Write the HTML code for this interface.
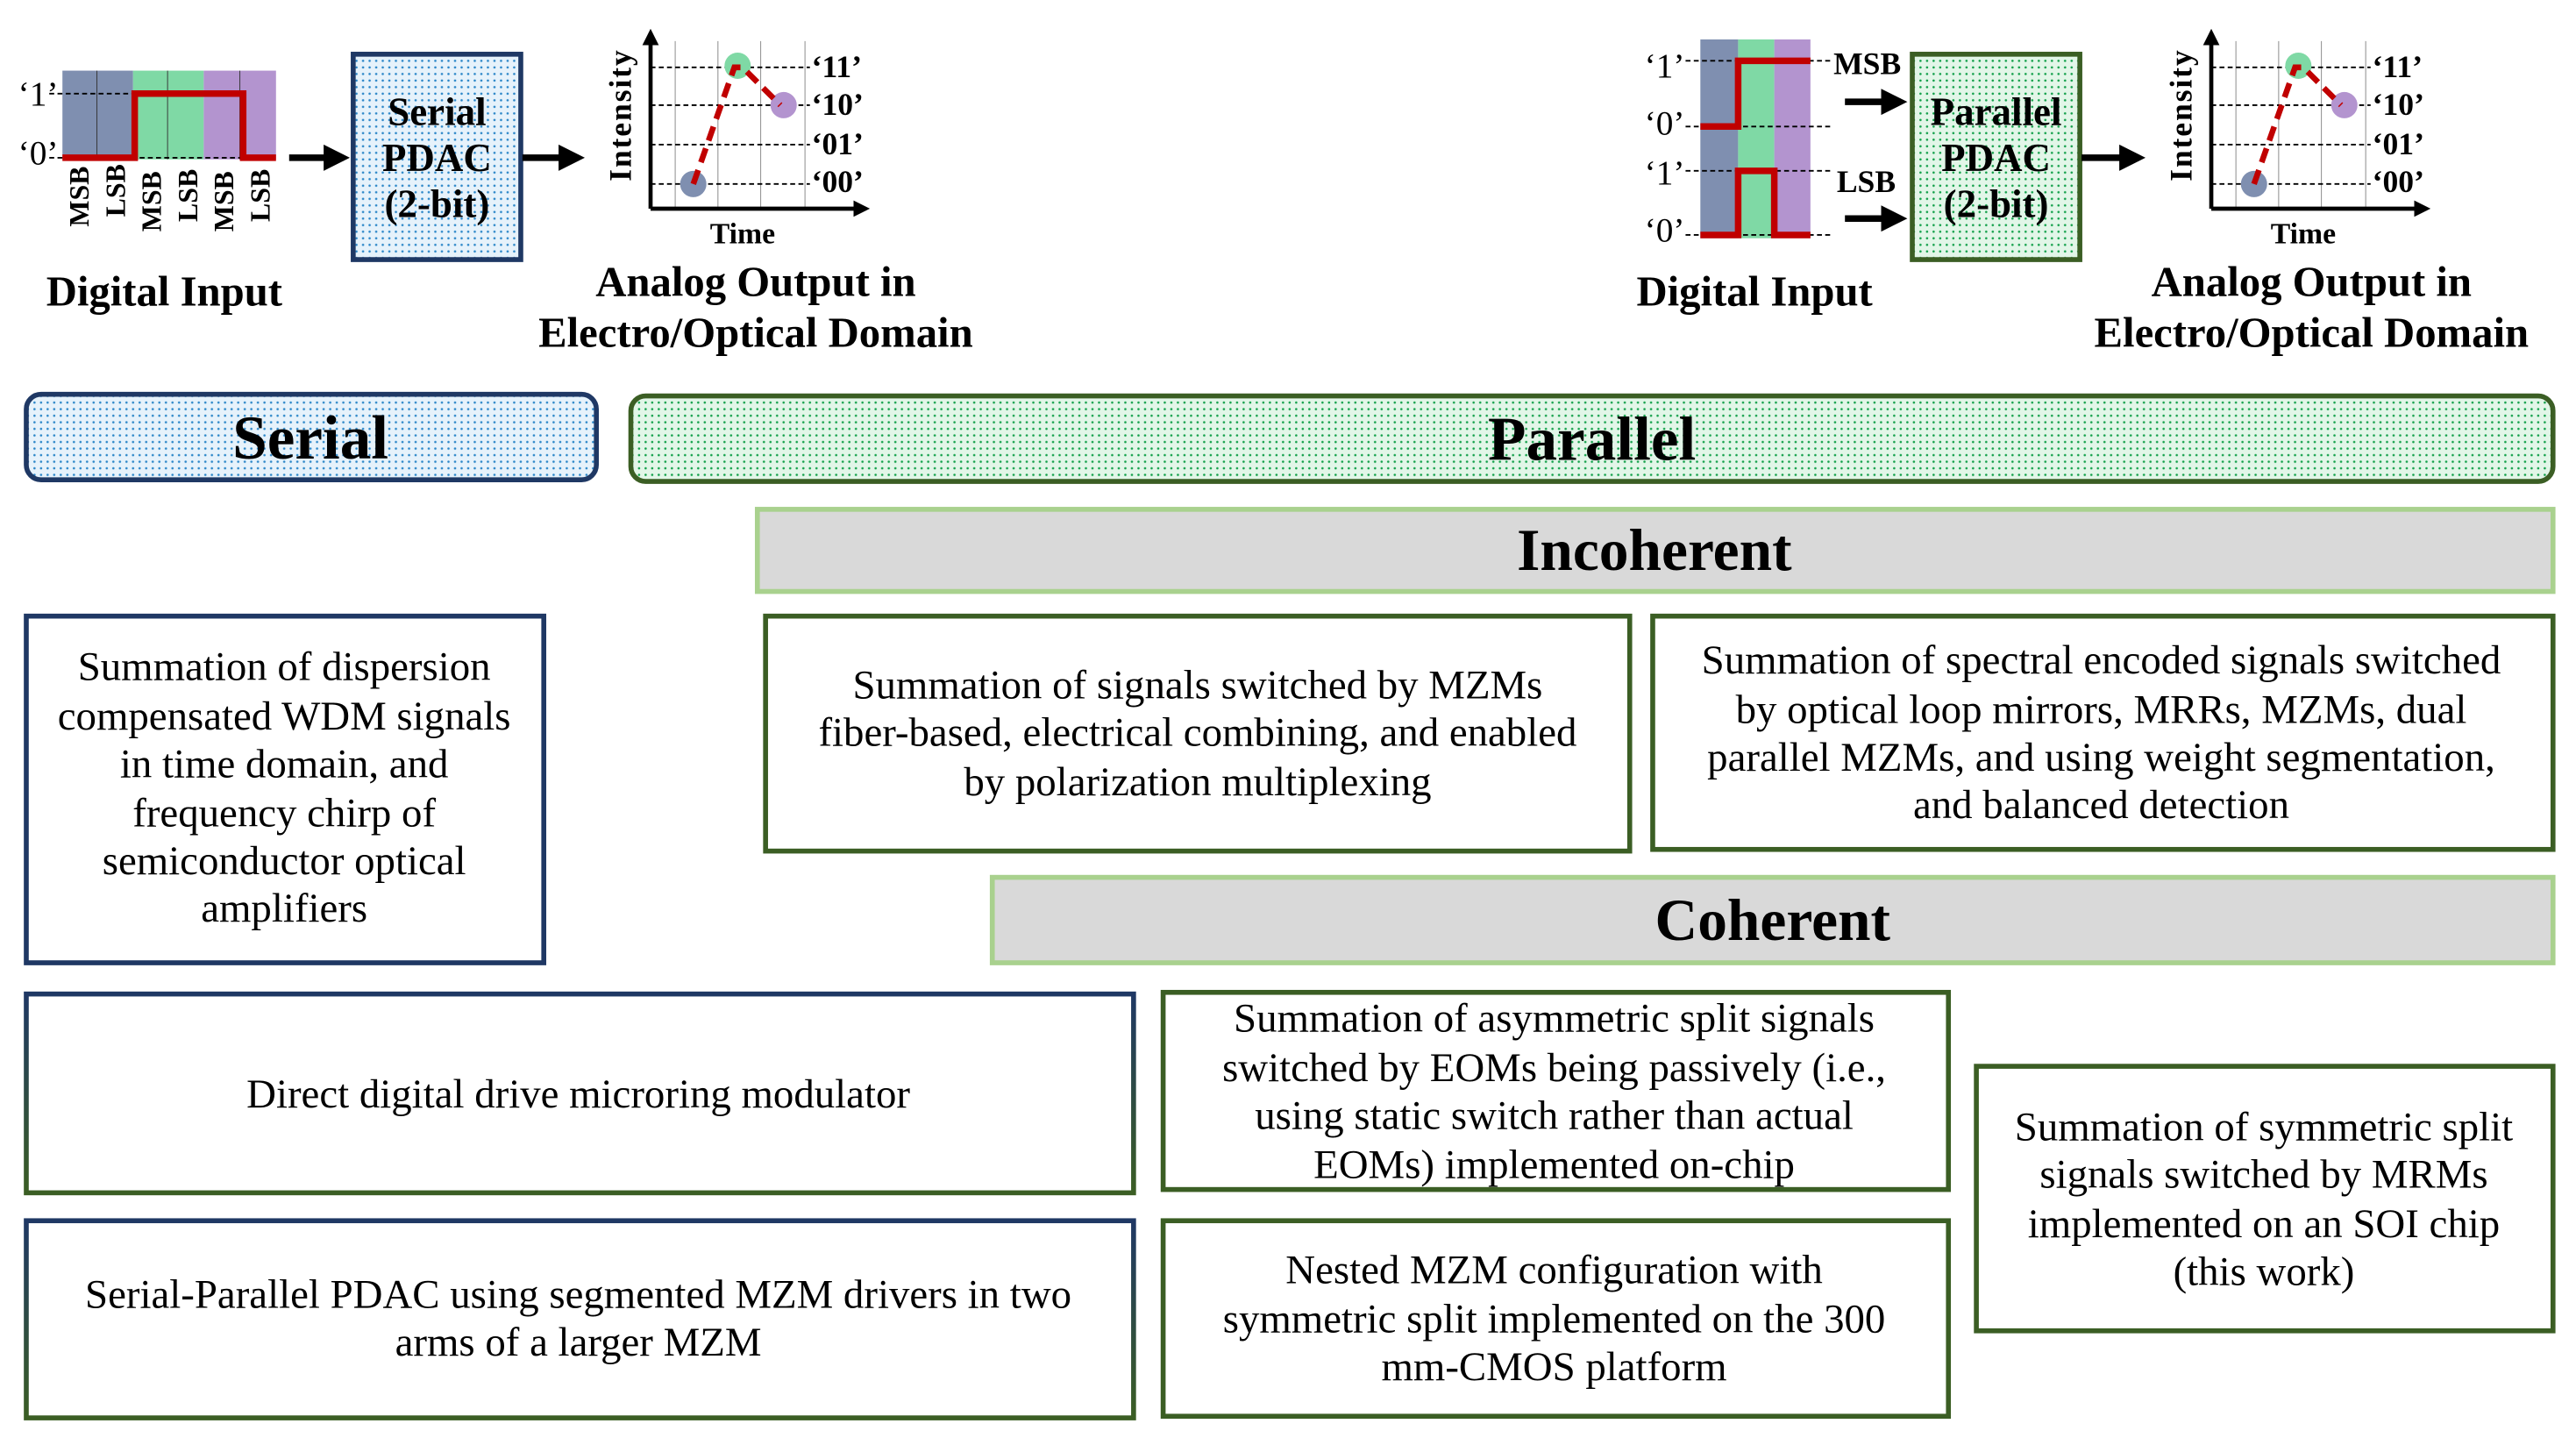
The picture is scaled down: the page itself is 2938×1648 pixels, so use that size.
<!DOCTYPE html>
<html><head><meta charset="utf-8"><style>
html,body{margin:0;padding:0;background:#fff;}
svg{display:block;}
svg text{font-family:"Liberation Serif","Times New Roman",serif;fill:#000;}
.b{font-size:25px;text-anchor:middle;font-family:"Liberation Serif",serif;}
.h{font-weight:bold;text-anchor:middle;}
</style></head><body>
<svg width="2938" height="1648" viewBox="0 0 1568 879.5" preserveAspectRatio="none" xmlns="http://www.w3.org/2000/svg" font-family="Liberation Serif, serif">
<defs>
<pattern id="pb" width="4" height="4" patternUnits="userSpaceOnUse"><rect width="4" height="4" fill="#e6f2fb"/><circle cx="1" cy="1" r="0.7" fill="#2a86c8"/></pattern>
<pattern id="pg" width="4" height="4" patternUnits="userSpaceOnUse"><rect width="4" height="4" fill="#e2f6e8"/><circle cx="1" cy="1" r="0.7" fill="#12a04a"/></pattern>
<linearGradient id="gb" x1="0" y1="0" x2="0" y2="1"><stop offset="0" stop-color="#1f3864"/><stop offset="1" stop-color="#3b5e24"/></linearGradient>
<marker id="ar" markerWidth="4" markerHeight="4" refX="3" refY="2" orient="auto"><path d="M0,0 L4,2 L0,4 z" fill="#000"/></marker>
</defs>

<rect x="38" y="43" width="43" height="54" fill="#7f8fb0"/>
<rect x="81" y="43" width="43" height="54" fill="#7fd9a5"/>
<rect x="124" y="43" width="44" height="54" fill="#b394cf"/>
<g stroke="#333" stroke-width="0.5"><line x1="59" y1="43" x2="59" y2="97"/><line x1="102" y1="43" x2="102" y2="97"/><line x1="146" y1="43" x2="146" y2="97"/></g>
<g stroke="#000" stroke-width="1" stroke-dasharray="3,2"><line x1="30" y1="57" x2="150" y2="57"/><line x1="30" y1="96" x2="150" y2="96"/></g>
<polyline points="38,96 82,96 82,57 148,57 148,96 168,96" fill="none" stroke="#c00000" stroke-width="4"/>
<text x="11" y="64" font-family="Liberation Serif, serif" style="font-size:21px">‘1’</text>
<text x="11" y="100" font-family="Liberation Serif, serif" style="font-size:21px">‘0’</text>
<g style="font-size:17px;font-weight:bold">
<text transform="translate(54,138) rotate(-90)">MSB</text>
<text transform="translate(76,132) rotate(-90)">LSB</text>
<text transform="translate(98,141) rotate(-90)">MSB</text>
<text transform="translate(120,135) rotate(-90)">LSB</text>
<text transform="translate(142,141) rotate(-90)">MSB</text>
<text transform="translate(164,135) rotate(-90)">LSB</text>
</g>
<line x1="176" y1="96" x2="209" y2="96" stroke="#000" stroke-width="4" marker-end="url(#ar)"/>
<rect x="215" y="33" width="102" height="125" fill="url(#pb)" stroke="#1f3864" stroke-width="3"/>
<text x="266" y="76" class="h" style="font-size:24px">Serial</text>
<text x="266" y="104" class="h" style="font-size:24px">PDAC</text>
<text x="266" y="132" class="h" style="font-size:24px">(2-bit)</text>
<line x1="318" y1="96" x2="352" y2="96" stroke="#000" stroke-width="4" marker-end="url(#ar)"/>
<text x="100" y="186" class="h" style="font-size:26px">Digital Input</text>
<text x="460" y="180" class="h" style="font-size:26px">Analog Output in</text>
<text x="460" y="211" class="h" style="font-size:26px">Electro/Optical Domain</text>

<g id="graph1">
<g stroke="#999" stroke-width="0.6"><line x1="411" y1="25" x2="411" y2="127"/><line x1="437" y1="25" x2="437" y2="127"/><line x1="463" y1="25" x2="463" y2="127"/><line x1="490" y1="25" x2="490" y2="127"/></g>
<g stroke="#000" stroke-width="1" stroke-dasharray="3,2"><line x1="396" y1="41" x2="493" y2="41"/><line x1="396" y1="64" x2="493" y2="64"/><line x1="396" y1="88" x2="493" y2="88"/><line x1="396" y1="112" x2="493" y2="112"/></g>
<circle cx="422" cy="112" r="8" fill="#7f8fb0"/>
<circle cx="449" cy="40" r="8" fill="#7fd9a5"/>
<circle cx="477" cy="64" r="8" fill="#b394cf"/>
<polyline points="422,112 447,41 452,41 475,64" fill="none" stroke="#c00000" stroke-width="3.5" stroke-dasharray="9,5"/>
<line x1="396" y1="127" x2="396" y2="20" stroke="#000" stroke-width="2.5" marker-end="url(#ar)"/>
<line x1="396" y1="127" x2="527" y2="127" stroke="#000" stroke-width="2.5" marker-end="url(#ar)"/>
<text x="494" y="47" style="font-size:19px;font-weight:bold">‘11’</text>
<text x="494" y="70" style="font-size:19px;font-weight:bold">‘10’</text>
<text x="494" y="94" style="font-size:19px;font-weight:bold">‘01’</text>
<text x="494" y="117" style="font-size:19px;font-weight:bold">‘00’</text>
<text transform="translate(384,70) rotate(-90)" class="h" style="font-size:19px;letter-spacing:1px">Intensity</text>
<text x="452" y="148" class="h" style="font-size:18px">Time</text>
</g>
<use href="#graph1" transform="translate(950,0)"/>

<rect x="1035" y="24" width="23" height="121" fill="#7f8fb0"/>
<rect x="1058" y="24" width="22" height="121" fill="#7fd9a5"/>
<rect x="1080" y="24" width="22" height="121" fill="#b394cf"/>
<g stroke="#000" stroke-width="1" stroke-dasharray="3,2"><line x1="1026" y1="37" x2="1115" y2="37"/><line x1="1026" y1="77" x2="1115" y2="77"/><line x1="1026" y1="104" x2="1115" y2="104"/><line x1="1026" y1="143" x2="1115" y2="143"/></g>
<polyline points="1035,77 1058,77 1058,37 1102,37" fill="none" stroke="#c00000" stroke-width="4"/>
<polyline points="1035,143 1058,143 1058,104 1080,104 1080,143 1102,143" fill="none" stroke="#c00000" stroke-width="4"/>
<text x="1001" y="47" style="font-size:21px">‘1’</text>
<text x="1001" y="82" style="font-size:21px">‘0’</text>
<text x="1001" y="112" style="font-size:21px">‘1’</text>
<text x="1001" y="147" style="font-size:21px">‘0’</text>
<text x="1116" y="45" style="font-size:19px;font-weight:bold">MSB</text>
<text x="1118" y="117" style="font-size:19px;font-weight:bold">LSB</text>
<line x1="1123" y1="62" x2="1157" y2="62" stroke="#000" stroke-width="4" marker-end="url(#ar)"/>
<line x1="1123" y1="133" x2="1157" y2="133" stroke="#000" stroke-width="4" marker-end="url(#ar)"/>
<rect x="1164" y="33" width="102" height="125" fill="url(#pg)" stroke="#3b5e24" stroke-width="3"/>
<text x="1215" y="76" class="h" style="font-size:24px">Parallel</text>
<text x="1215" y="104" class="h" style="font-size:24px">PDAC</text>
<text x="1215" y="132" class="h" style="font-size:24px">(2-bit)</text>
<line x1="1267" y1="96" x2="1302" y2="96" stroke="#000" stroke-width="4" marker-end="url(#ar)"/>
<text x="1068" y="186" class="h" style="font-size:26px">Digital Input</text>
<text x="1407" y="180" class="h" style="font-size:26px">Analog Output in</text>
<text x="1407" y="211" class="h" style="font-size:26px">Electro/Optical Domain</text>

<rect x="16" y="240" width="347" height="52" rx="9" fill="url(#pb)" stroke="#1f3864" stroke-width="3"/>
<text x="189" y="279" class="h" style="font-size:38px">Serial</text>
<rect x="384" y="241" width="1170" height="52" rx="9" fill="url(#pg)" stroke="#3b5e24" stroke-width="3"/>
<text x="969" y="280" class="h" style="font-size:38px">Parallel</text>
<rect x="461" y="310" width="1093" height="50" fill="#d9d9d9" stroke="#a9d18e" stroke-width="3"/>
<text x="1007" y="347" class="h" style="font-size:36px">Incoherent</text>
<rect x="604" y="534" width="950" height="52" fill="#d9d9d9" stroke="#a9d18e" stroke-width="3"/>
<text x="1079" y="572" class="h" style="font-size:36px">Coherent</text>

<g font-family="Liberation Serif, serif">
<rect x="16" y="375" width="315" height="211" fill="#fff" stroke="#1f3864" stroke-width="3"/>
<text class="b" x="173" y="414">Summation of dispersion</text>
<text class="b" x="173" y="444">compensated WDM signals</text>
<text class="b" x="173" y="473">in time domain, and</text>
<text class="b" x="173" y="503">frequency chirp of</text>
<text class="b" x="173" y="532">semiconductor optical</text>
<text class="b" x="173" y="561">amplifiers</text>

<rect x="466" y="375" width="526" height="143" fill="#fff" stroke="#3b5e24" stroke-width="3"/>
<text class="b" x="729" y="425">Summation of signals switched by MZMs</text>
<text class="b" x="729" y="454">fiber-based, electrical combining, and enabled</text>
<text class="b" x="729" y="484">by polarization multiplexing</text>

<rect x="1006" y="375" width="548" height="142" fill="#fff" stroke="#3b5e24" stroke-width="3"/>
<text class="b" x="1279" y="410">Summation of spectral encoded signals switched</text>
<text class="b" x="1279" y="440">by optical loop mirrors, MRRs, MZMs, dual</text>
<text class="b" x="1279" y="469">parallel MZMs, and using weight segmentation,</text>
<text class="b" x="1279" y="498">and balanced detection</text>

<rect x="16" y="605" width="674" height="121" fill="#fff" stroke="url(#gb)" stroke-width="3"/>
<text class="b" x="352" y="674">Direct digital drive microring modulator</text>

<rect x="16" y="743" width="674" height="120" fill="#fff" stroke="url(#gb)" stroke-width="3"/>
<text class="b" x="352" y="796">Serial-Parallel PDAC using segmented MZM drivers in two</text>
<text class="b" x="352" y="825">arms of a larger MZM</text>

<rect x="708" y="604" width="478" height="120" fill="#fff" stroke="#3b5e24" stroke-width="3"/>
<text class="b" x="946" y="628">Summation of asymmetric split signals</text>
<text class="b" x="946" y="658">switched by EOMs being passively (i.e.,</text>
<text class="b" x="946" y="687">using static switch rather than actual</text>
<text class="b" x="946" y="717">EOMs) implemented on-chip</text>

<rect x="708" y="743" width="478" height="119" fill="#fff" stroke="#3b5e24" stroke-width="3"/>
<text class="b" x="946" y="781">Nested MZM configuration with</text>
<text class="b" x="946" y="811">symmetric split implemented on the 300</text>
<text class="b" x="946" y="840">mm-CMOS platform</text>

<rect x="1203" y="649" width="351" height="161" fill="#fff" stroke="#3b5e24" stroke-width="3"/>
<text class="b" x="1378" y="694">Summation of symmetric split</text>
<text class="b" x="1378" y="723">signals switched by MRMs</text>
<text class="b" x="1378" y="753">implemented on an SOI chip</text>
<text class="b" x="1378" y="782">(this work)</text>
</g>
</svg>
</body></html>
